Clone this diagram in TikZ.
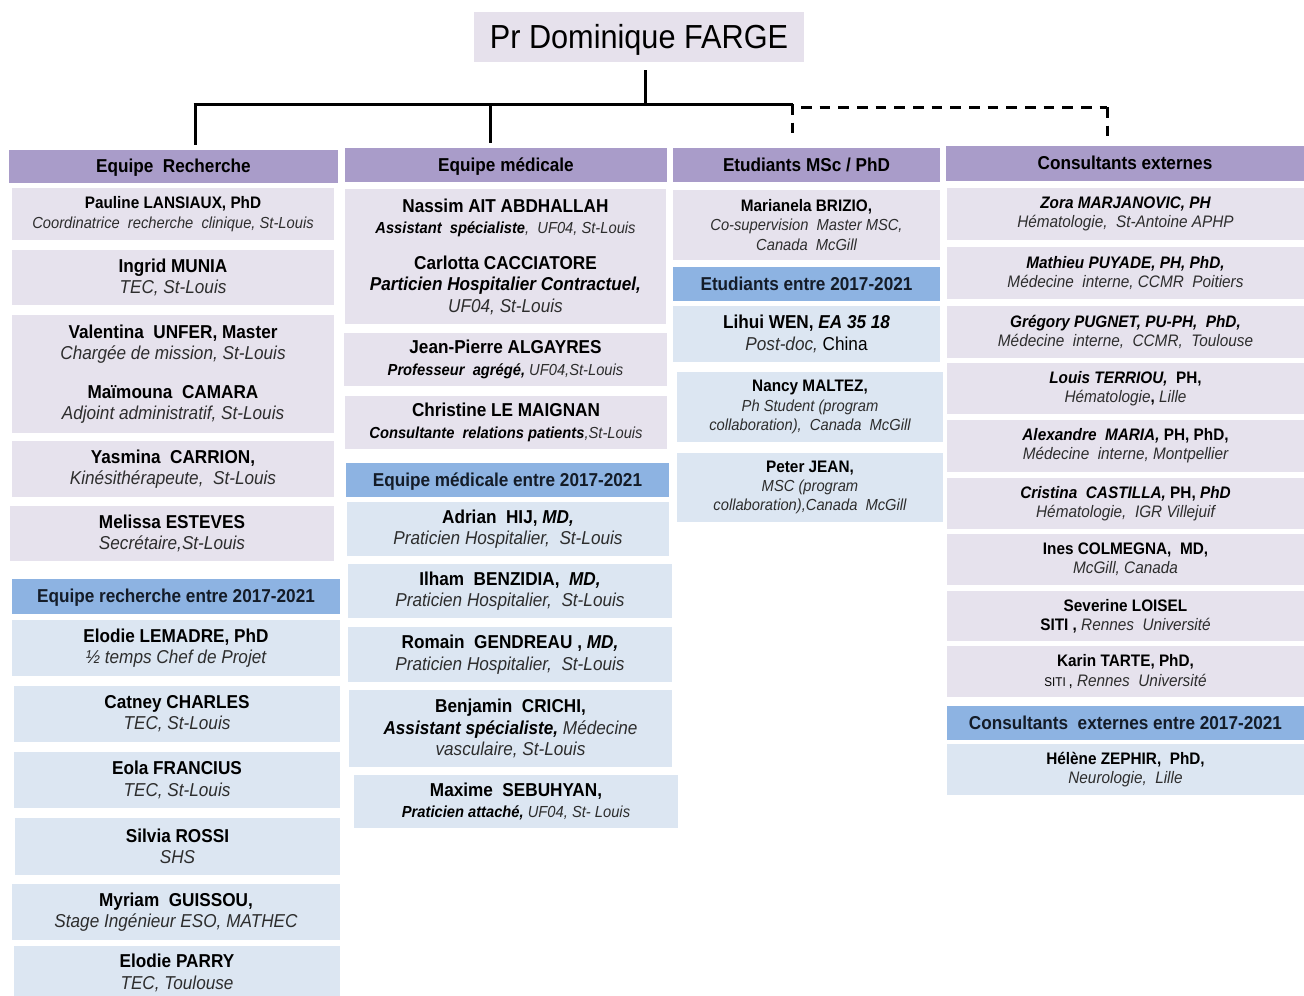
\documentclass[tikz,border=0pt]{standalone}
\usepackage{fontspec}
\setmainfont{Liberation Sans}[FakeStretch=0.92]
\definecolor{hdrP}{RGB}{169,156,201}
\definecolor{boxP}{RGB}{230,226,237}
\definecolor{hdrB}{RGB}{141,179,226}
\definecolor{boxB}{RGB}{220,230,242}
\definecolor{topC}{RGB}{230,225,236}
\definecolor{descC}{RGB}{45,45,45}
\definecolor{navyT}{RGB}{20,28,40}
\newcommand\fsBig{\fontsize{14}{16}\selectfont}
\newcommand\fsSm{\fontsize{12.5}{14.5}\selectfont}
\newcommand\fsXs{\fontsize{12}{14}\selectfont}
\newcommand\nm[1]{\textbf{#1}}
\newcommand\ds[1]{{\color{descC}\itshape #1}}
\newcommand\bi[1]{{\bfseries\itshape #1}}
\newcommand\bx[7]{\node[#2, minimum width={(#5-(#3))*0.75pt}, minimum height={(#6-(#4))*0.75pt}] (#1) at ({(#3+#5)/2},{(#4+#6)/2}) {#7};}
\tikzset{
  basebox/.style={inner sep=1pt, outer sep=0pt, align=center, text=black},
  ph/.style={basebox, fill=hdrP, font=\fsBig\bfseries, text height=11pt, text depth=2pt},
  bh/.style={basebox, fill=hdrB, font=\fsBig\bfseries, text=navyT, text height=11pt, text depth=2pt},
  pl/.style={basebox, fill=boxP, font=\fsBig},
  pls/.style={basebox, fill=boxP, font=\fsSm},
  bl/.style={basebox, fill=boxB, font=\fsBig},
  bls/.style={basebox, fill=boxB, font=\fsSm},
  topbox/.style={basebox, fill=topC, font=\fontsize{25}{28}\selectfont, text height=20pt, text depth=3pt},
  conn/.style={line width=2.25pt, black},
  dconn/.style={line width=2.25pt, black, dash pattern=on 8pt off 6pt}
}
\begin{document}
\begin{tikzpicture}[x=0.75pt,y=-0.75pt]
\useasboundingbox (0,0) rectangle (1304,996);
% top
\bx{boss}{topbox}{474}{12}{804}{62}{Pr Dominique FARGE}
% column headers
\bx{h1}{ph}{9}{150}{338}{183}{Equipe\ \ Recherche}
\bx{h2}{ph}{345}{148}{667}{182}{Equipe médicale}
\bx{h3}{ph}{673}{148}{940}{182}{Etudiants MSc / PhD}
\bx{h4}{ph}{946}{146}{1304}{181}{Consultants externes}
% connectors
\coordinate (j) at (645,104);
\coordinate (d1) at (195,104);
\coordinate (d2) at (490,104);
\coordinate (d3) at (792,104);
\coordinate (e3) at (801,107);
\coordinate (e4) at (1107,107);
\draw[conn] ([yshift=-6pt]boss.south -| j) -- (j);
\draw[conn] ([xshift=-1pt]d1) -- ([xshift=1pt]d3);
\draw[conn, shorten >=4pt] (d1) -- (d1 |- h1.north);
\draw[conn, shorten >=4pt] (d2) -- (d2 |- h2.north);
\draw[dconn, shorten >=9pt] (d3) -- (d3 |- h3.north);
\draw[dconn] (e3) -- (e4);
\draw[dconn, shorten >=3pt] (e4) -- (e4 |- h4.north);
% column 1
\bx{p1}{pls}{12}{188}{334}{240}{\nm{Pauline LANSIAUX, PhD}\\ {\fsXs\ds{Coordinatrice\ \ recherche\ \ clinique,\ St-Louis}}}
\bx{p2}{pl}{12}{250}{334}{305}{\nm{Ingrid MUNIA}\\ \ds{TEC, St-Louis}}
\bx{p3}{pl}{12}{315}{334}{433}{\nm{Valentina\ \ UNFER, Master}\\ \ds{Chargée\ de mission, St-Louis}\\[13pt] \nm{Maïmouna\ \ CAMARA}\\ \ds{Adjoint administratif,\ St-Louis}}
\bx{p4}{pl}{12}{441}{334}{497}{\nm{Yasmina\ \ CARRION,}\\ \ds{Kinésithérapeute,\ \ St-Louis}}
\bx{p5}{pl}{10}{506}{334}{561}{\nm{Melissa ESTEVES}\\ \ds{Secrétaire,St-Louis}}
\bx{g1}{bh}{12}{579}{340}{614}{Equipe recherche entre 2017-2021}
\bx{p6}{bl}{12}{620}{340}{676}{\nm{Elodie LEMADRE,\ PhD}\\ \ds{½ temps Chef de Projet}}
\bx{p7}{bl}{14}{686}{340}{742}{\nm{Catney CHARLES}\\ \ds{TEC, St-Louis}}
\bx{p8}{bl}{14}{752}{340}{808}{\nm{Eola FRANCIUS}\\ \ds{TEC, St-Louis}}
\bx{p9}{bl}{15}{818}{340}{875}{\nm{Silvia ROSSI}\\ \ds{SHS}}
\bx{p10}{bl}{12}{884}{340}{940}{\nm{Myriam\ \ GUISSOU,}\\ \ds{Stage Ingénieur\ ESO, MATHEC}}
\bx{p11}{bl}{14}{946}{340}{1000}{\nm{Elodie PARRY}\\ \ds{TEC, Toulouse}}
% column 2
\bx{m1}{pl}{345}{189}{666}{324}{\nm{Nassim\ AIT\ ABDHALLAH}\\ {\fsXs\bi{Assistant\ \ spécialiste}\ds{,\ \ UF04,\ St-Louis}}\\[11pt] \nm{Carlotta CACCIATORE}\\ \bi{Particien Hospitalier\ Contractuel,}\\ \ds{UF04,\ St-Louis}}
\bx{m2}{pl}{344}{333}{667}{386}{\nm{Jean-Pierre ALGAYRES}\\ {\fsXs\bi{Professeur\ \ agrégé,}\ \ds{UF04,St-Louis}}}
\bx{m3}{pl}{345}{396}{667}{449}{\nm{Christine LE MAIGNAN}\\ {\fsXs\bi{Consultante\ \ relations\ patients}\ds{,St-Louis}}}
\bx{g2}{bh}{346}{463}{669}{497}{Equipe médicale entre 2017-2021}
\bx{m4}{bl}{347}{502}{669}{556}{\nm{Adrian\ \ HIJ, \textit{MD,}}\\ \ds{Praticien Hospitalier,\ \ St-Louis}}
\bx{m5}{bl}{348}{564}{672}{618}{\nm{Ilham\ \ BENZIDIA,\ \ \textit{MD,}}\\ \ds{Praticien Hospitalier,\ \ St-Louis}}
\bx{m6}{bl}{348}{627}{672}{682}{\nm{Romain\ \ GENDREAU\ , \textit{MD,}}\\ \ds{Praticien Hospitalier,\ \ St-Louis}}
\bx{m7}{bl}{349}{690}{672}{767}{\nm{Benjamin\ \ CRICHI,}\\ \bi{Assistant spécialiste,}\ \ds{Médecine}\\ \ds{vasculaire,\ St-Louis}}
\bx{m8}{bl}{354}{775}{678}{828}{\nm{Maxime\ \ SEBUHYAN,}\\ {\fsXs\bi{Praticien\ attaché,}\ \ds{UF04,\ St-\ Louis}}}
% column 3
\bx{s1}{pls}{673}{190}{940}{260}{\nm{Marianela BRIZIO,}\\ {\fsXs\ds{Co-supervision\ \ Master MSC,}}\\ {\fsXs\ds{Canada\ \ McGill}}}
\bx{g3}{bh}{673}{267}{940}{301}{Etudiants entre 2017-2021}
\bx{s2}{bl}{673}{306}{940}{362}{\nm{Lihui WEN, \textit{EA 35 18}}\\ \ds{Post-doc,} China}
\bx{s3}{bls}{677}{372}{943}{442}{\nm{Nancy MALTEZ,}\\ {\fsXs\ds{Ph Student (program}}\\ {\fsXs\ds{collaboration),\ \ Canada\ \ McGill}}}
\bx{s4}{bls}{677}{453}{943}{522}{\nm{Peter JEAN,}\\ {\fsXs\ds{MSC (program}}\\ {\fsXs\ds{collaboration),Canada\ \ McGill}}}
% column 4
\bx{k1}{pls}{947}{188}{1304}{240}{\bi{Zora MARJANOVIC, PH}\\ \ds{Hématologie,\ \ St-Antoine APHP}}
\bx{k2}{pls}{947}{247}{1304}{299}{\bi{Mathieu PUYADE, PH, PhD,}\\ \ds{Médecine\ \ interne,\ CCMR\ \ Poitiers}}
\bx{k3}{pls}{947}{306}{1304}{358}{\bi{Grégory\ PUGNET, PU-PH,\ \ PhD,}\\ \ds{Médecine\ \ interne,\ \ CCMR,\ \ Toulouse}}
\bx{k4}{pls}{947}{363}{1304}{414}{\bi{Louis TERRIOU,}\ \ \nm{PH,}\\ \ds{Hématologie}\nm{,}\ \ds{Lille}}
\bx{k5}{pls}{947}{420}{1304}{472}{\bi{Alexandre\ \ MARIA,}\nm{ PH, PhD,}\\ \ds{Médecine\ \ interne,\ Montpellier}}
\bx{k6}{pls}{947}{478}{1304}{529}{\bi{Cristina\ \ CASTILLA,}\nm{ PH,} \bi{PhD}\\ \ds{Hématologie,\ \ IGR Villejuif}}
\bx{k7}{pls}{947}{534}{1304}{585}{\nm{Ines COLMEGNA,\ \ MD,}\\ \ds{McGill,} \ds{Canada}}
\bx{k8}{pls}{947}{591}{1304}{641}{\nm{Severine LOISEL}\\ \nm{SITI ,} \ds{Rennes\ \ Université}}
\bx{k9}{pls}{947}{646}{1304}{697}{\nm{Karin TARTE,\ PhD,}\\ {\fontsize{9.5}{11}\selectfont SITI}\,, \ds{Rennes\ \ Université}}
\bx{g4}{bh}{947}{706}{1304}{740}{Consultants\ \ externes entre 2017-2021}
\bx{k10}{bls}{947}{744}{1304}{795}{\nm{Hélène ZEPHIR,\ \ PhD,}\\ \ds{Neurologie,\ \ Lille}}
\end{tikzpicture}
\end{document}
